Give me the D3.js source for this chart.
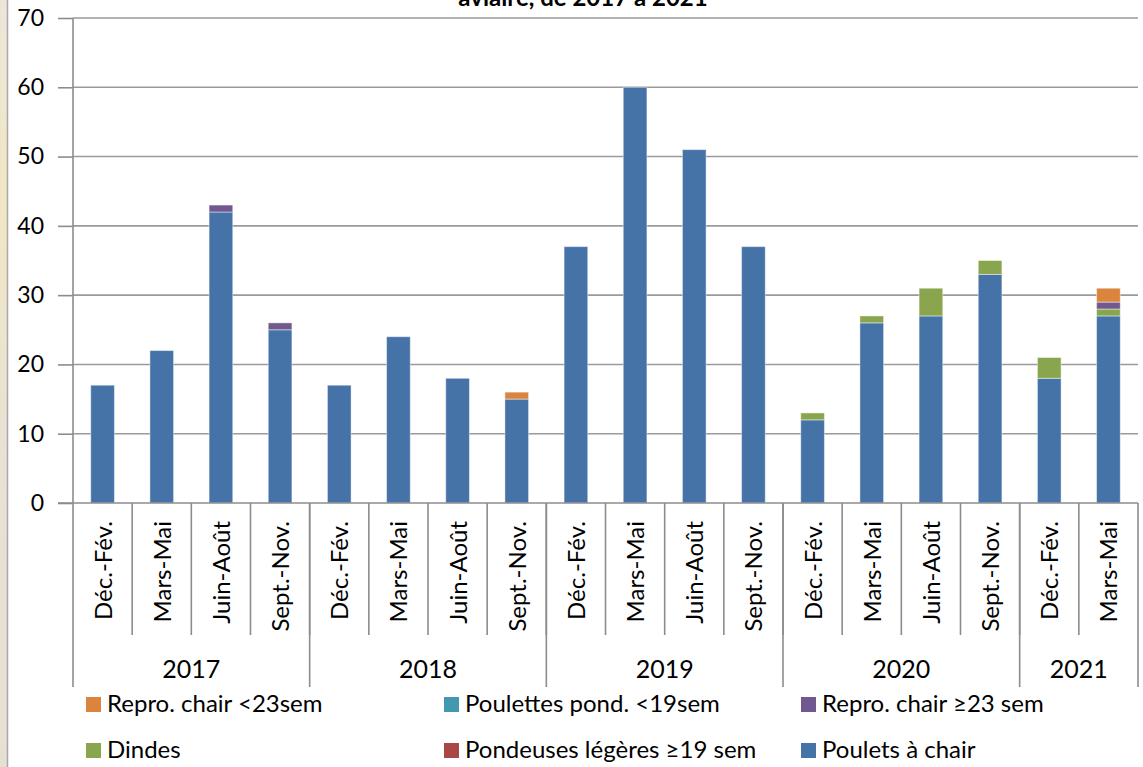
<!DOCTYPE html>
<html lang="fr">
<head>
<meta charset="UTF-8">
<title>Foyers par saison, 2017 à 2021</title>
<script src="https://d3js.org/d3.v7.min.js"></script>
<style>
  body { margin: 0; padding: 0; background: #fff; overflow: hidden; }
  svg { display: block; font-family: Lato, "Liberation Sans", sans-serif; }
  .grid line { stroke: #9a9a9a; stroke-width: 1.6px; }
  .axis-line { stroke: #8c8c8c; stroke-width: 1.6px; fill: none; }
  .lbl { fill: #000; }
</style>
</head>
<body>
<div id="chart"></div>
<script>
// saisons (catégories) et années
const seasons = ["Déc.-Fév.", "Mars-Mai", "Juin-Août", "Sept.-Nov.",
                 "Déc.-Fév.", "Mars-Mai", "Juin-Août", "Sept.-Nov.",
                 "Déc.-Fév.", "Mars-Mai", "Juin-Août", "Sept.-Nov.",
                 "Déc.-Fév.", "Mars-Mai", "Juin-Août", "Sept.-Nov.",
                 "Déc.-Fév.", "Mars-Mai"];
const years = ["2017", "2018", "2019", "2020", "2021"];
const yearSpans = [4, 4, 4, 4, 2];
const yTicks = [0, 10, 20, 30, 40, 50, 60, 70];

// séries (ordre d'empilement, du bas vers le haut)
const pouletsChair = [17, 22, 42, 25, 17, 24, 18, 15, 37, 60, 51, 37, 12, 26, 27, 33, 18, 27];
const pondeuses    = [0, 0, 0, 0, 0, 0, 0, 0, 0, 0, 0, 0, 0, 0, 0, 0, 0, 0];
const dindes       = [0, 0, 0, 0, 0, 0, 0, 0, 0, 0, 0, 0, 1, 1, 4, 2, 3, 1];
const reproPlus23  = [0, 0, 1, 1, 0, 0, 0, 0, 0, 0, 0, 0, 0, 0, 0, 0, 0, 1];
const poulettes    = [0, 0, 0, 0, 0, 0, 0, 0, 0, 0, 0, 0, 0, 0, 0, 0, 0, 0];
const reproMoins23 = [0, 0, 0, 0, 0, 0, 0, 1, 0, 0, 0, 0, 0, 0, 0, 0, 0, 2];

const seriesNames = ["Poulets à chair", "Pondeuses légères ≥19 sem", "Dindes",
                     "Repro. chair ≥23 sem", "Poulettes pond. <19sem", "Repro. chair <23sem"];
const seriesValues = [pouletsChair, pondeuses, dindes, reproPlus23, poulettes, reproMoins23];
const seriesColors = ["#4572a7", "#aa4643", "#89a54e", "#71588f", "#4198af", "#db843d"];

const width = 1143, height = 767;
const plotLeft = 73, plotRight = 1138, plotTop = 18, plotBottom = 503;

const svg = d3.select("#chart").append("svg")
    .attr("width", width)
    .attr("height", height);

// bande beige à gauche
const grad = svg.append("defs").append("linearGradient")
    .attr("id", "beige").attr("x1", 0).attr("y1", 0).attr("x2", 0).attr("y2", 1);
grad.append("stop").attr("offset", "0%").attr("stop-color", "#ece6da");
grad.append("stop").attr("offset", "25%").attr("stop-color", "#f1e7c4");
grad.append("stop").attr("offset", "55%").attr("stop-color", "#e9e2d2");
grad.append("stop").attr("offset", "100%").attr("stop-color", "#e6e0d3");
svg.append("rect").attr("x", 0).attr("y", 0).attr("width", 7).attr("height", height)
    .attr("fill", "url(#beige)");
svg.append("line").attr("x1", 7.5).attr("x2", 7.5).attr("y1", 0).attr("y2", height)
    .attr("stroke", "#a9a9a9").attr("stroke-width", 1.5);

// titre (coupé en haut, comme dans l'original)
svg.append("text")
    .attr("x", 583).attr("y", 6)
    .attr("text-anchor", "middle")
    .attr("font-weight", "bold")
    .attr("font-size", 24)
    .text("aviaire, de 2017 à 2021");

// échelles
const idx = d3.range(seasons.length);
const x = d3.scaleBand().domain(idx).range([plotLeft, plotRight]).paddingInner(0.6).paddingOuter(0.3);
const y = d3.scaleLinear().domain([0, 70]).range([plotBottom, plotTop]);

// grille
svg.append("g").attr("class", "grid")
    .selectAll("line")
    .data(yTicks.filter(d => d > 0))
    .join("line")
    .attr("x1", plotLeft).attr("x2", plotRight)
    .attr("y1", d => y(d)).attr("y2", d => y(d));

// barres empilées
const rows = idx.map(i => {
    const r = { i: i };
    seriesNames.forEach((n, k) => { r[n] = seriesValues[k][i]; });
    return r;
});
const stacked = d3.stack().keys(seriesNames)(rows);

svg.append("g")
    .selectAll("g")
    .data(stacked)
    .join("g")
    .attr("fill", (d, k) => seriesColors[k])
    .selectAll("rect")
    .data(d => d.filter(p => p[1] - p[0] > 0))
    .join("rect")
    .attr("x", p => x(p.data.i))
    .attr("width", x.bandwidth())
    .attr("y", p => y(p[1]))
    .attr("height", p => y(p[0]) - y(p[1]))
    .attr("stroke", "rgba(255,255,255,0.45)")
    .attr("stroke-width", 1);

// axe Y
const yAxis = svg.append("g")
    .attr("transform", `translate(${plotLeft},0)`)
    .call(d3.axisLeft(y).tickValues(yTicks).tickSize(15).tickPadding(14));
yAxis.select(".domain").remove();
yAxis.selectAll(".tick line").attr("stroke", "#8c8c8c").attr("stroke-width", 1.6);
yAxis.selectAll(".tick text")
    .attr("font-size", 23).attr("font-family", "Lato, sans-serif").attr("fill", "#000");

svg.append("line").attr("class", "axis-line")
    .attr("x1", plotLeft).attr("x2", plotLeft).attr("y1", plotTop).attr("y2", 687);

// axe X
svg.append("line").attr("class", "axis-line")
    .attr("x1", plotLeft - 15).attr("x2", plotRight).attr("y1", plotBottom).attr("y2", plotBottom);

const step = x.step();
svg.append("g")
    .selectAll("line")
    .data(d3.range(1, seasons.length))
    .join("line")
    .attr("class", "axis-line")
    .attr("x1", i => plotLeft + i * step).attr("x2", i => plotLeft + i * step)
    .attr("y1", plotBottom).attr("y2", 635);

// séparateurs d'années
const yearBounds = [0];
yearSpans.forEach(s => yearBounds.push(yearBounds[yearBounds.length - 1] + s));
svg.append("g")
    .selectAll("line")
    .data(yearBounds.slice(1))
    .join("line")
    .attr("class", "axis-line")
    .attr("x1", b => plotLeft + b * step).attr("x2", b => plotLeft + b * step)
    .attr("y1", plotBottom).attr("y2", 687);

// étiquettes des saisons
svg.append("g")
    .selectAll("text")
    .data(idx)
    .join("text")
    .attr("class", "lbl")
    .attr("font-size", 24)
    .attr("text-anchor", "end")
    .attr("transform", i => `translate(${x(i) + x.bandwidth() / 2 + 9},521) rotate(-90)`)
    .text(i => seasons[i]);

// étiquettes des années
svg.append("g")
    .selectAll("text")
    .data(years)
    .join("text")
    .attr("class", "lbl")
    .attr("font-size", 25)
    .attr("text-anchor", "middle")
    .attr("x", (d, k) => plotLeft + (yearBounds[k] + yearBounds[k + 1]) / 2 * step)
    .attr("y", 678)
    .text(d => d);

// légende (ordre inversé, 3 colonnes)
const legendOrder = seriesNames.map((n, k) => k).reverse();
const legCols = [86, 444, 801];
const legRows = [697, 743];
const leg = svg.append("g")
    .selectAll("g")
    .data(legendOrder)
    .join("g")
    .attr("transform", (k, j) => `translate(${legCols[j % 3]},${legRows[Math.floor(j / 3)]})`);
leg.append("rect")
    .attr("width", 15).attr("height", 15)
    .attr("fill", k => seriesColors[k]);
leg.append("text")
    .attr("class", "lbl")
    .attr("x", 21).attr("y", 15)
    .attr("font-size", 24)
    .text(k => seriesNames[k]);
</script>
</body>
</html>
